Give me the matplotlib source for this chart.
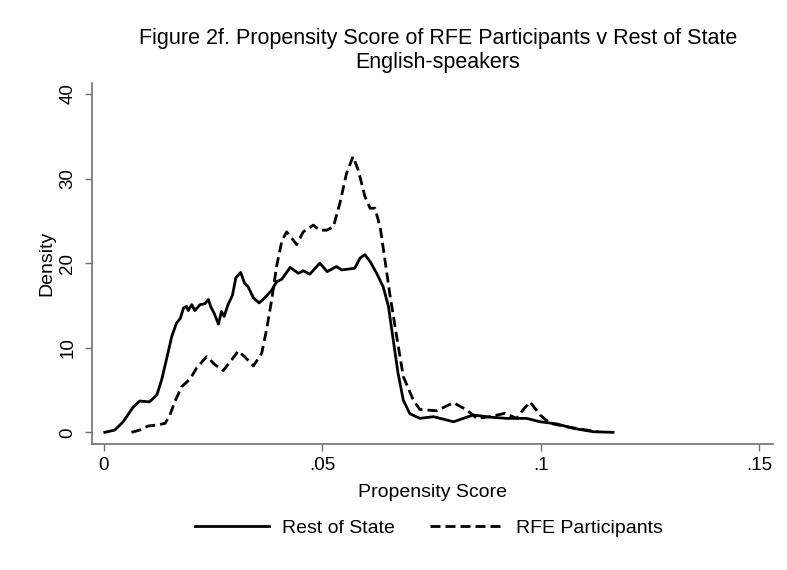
import matplotlib
matplotlib.use('Agg')
import matplotlib.pyplot as plt

# kernel density
rest_x = [0.0002, 0.0025, 0.0044, 0.0067, 0.0082, 0.0104, 0.0121, 0.0132, 0.0143, 0.0155,
          0.0166, 0.0175, 0.0182, 0.0189, 0.0193, 0.0201, 0.0208, 0.0220, 0.0231, 0.0239,
          0.0244, 0.0252, 0.0262, 0.0269, 0.0275, 0.0284, 0.0294, 0.0302, 0.0313, 0.0322,
          0.0330, 0.0342, 0.0355, 0.0368, 0.0384, 0.0395, 0.0407, 0.0426, 0.0445, 0.0456,
          0.0471, 0.0494, 0.0511, 0.0532, 0.0544, 0.0559, 0.0574, 0.0586, 0.0597, 0.0609,
          0.0624, 0.0639, 0.0651, 0.0662, 0.0673, 0.0685, 0.0700, 0.0723, 0.0754, 0.0800,
          0.0845, 0.0883, 0.0921, 0.0967, 0.0998, 0.1036, 0.1074, 0.1120, 0.1165]
rest_y = [0.0, 0.27, 1.25, 3.0, 3.7, 3.6, 4.4, 6.2, 8.6, 11.3,
          12.9, 13.5, 14.7, 14.9, 14.4, 15.1, 14.4, 15.1, 15.2, 15.7,
          14.9, 14.1, 12.8, 14.3, 13.7, 15.1, 16.2, 18.3, 18.9, 17.6,
          17.2, 15.9, 15.3, 15.9, 16.8, 17.8, 18.1, 19.5, 18.8, 19.1,
          18.7, 20.0, 19.0, 19.6, 19.2, 19.3, 19.4, 20.6, 21.0, 20.2,
          18.8, 17.2, 14.9, 10.9, 7.0, 3.8, 2.2, 1.65, 1.85, 1.25,
          2.05, 1.8, 1.65, 1.65, 1.25, 1.0, 0.47, 0.07, 0.0]

rfe_x = [0.0063, 0.0082, 0.0101, 0.0121, 0.0140, 0.0151, 0.0162, 0.0178, 0.0197, 0.0212,
         0.0235, 0.0254, 0.0273, 0.0292, 0.0307, 0.0322, 0.0342, 0.0361, 0.0372, 0.0384,
         0.0395, 0.0407, 0.0418, 0.0429, 0.0441, 0.0456, 0.0479, 0.0494, 0.0510, 0.0525,
         0.0540, 0.0555, 0.0570, 0.0582, 0.0597, 0.0609, 0.0620, 0.0632, 0.0643, 0.0654,
         0.0670, 0.0685, 0.0708, 0.0723, 0.0761, 0.0800, 0.0830, 0.0853, 0.0883, 0.0918,
         0.0944, 0.0959, 0.0975, 0.0998, 0.1021, 0.1059, 0.1104, 0.1131]
rfe_y = [0.0, 0.27, 0.75, 0.86, 1.06, 2.05, 3.6, 5.4, 6.3, 7.6,
         8.95, 8.0, 7.3, 8.55, 9.6, 8.95, 7.85, 9.35, 12.1, 15.7,
         19.6, 22.6, 23.7, 23.0, 22.2, 23.7, 24.5, 23.9, 23.9, 24.3,
         27.1, 30.6, 32.6, 31.0, 27.9, 26.5, 26.5, 24.3, 20.4, 16.4,
         11.3, 6.6, 3.8, 2.7, 2.55, 3.5, 2.65, 1.65, 1.85, 2.25,
         1.65, 2.65, 3.6, 2.05, 1.06, 0.66, 0.27, 0.07]

xticks = [0, 0.05, 0.1, 0.15]
xtick_labels = ['0', '.05', '.1', '.15']
yticks = [0, 10, 20, 30, 40]

plt.rcParams['font.family'] = ['Liberation Sans', 'DejaVu Sans']
W, H = 787, 570
fig = plt.figure(figsize=(W / 100, H / 100), dpi=100)
ax = fig.add_axes([91.7 / W, 1 - 444 / H, (773 - 91.7) / W, (444 - 83) / H])

l1, = ax.plot(rest_x, rest_y, color='black', lw=2.0, solid_joinstyle='round')
l2, = ax.plot(rfe_x, rfe_y, color='black', lw=2.0, dashes=(3.6, 1.8))

ax.set_xlim(-0.0028, 0.1531)
ax.set_ylim(-1.38, 41.3)
ax.set_xticks(xticks)
ax.set_xticklabels(xtick_labels)
ax.set_yticks(yticks)
ax.set_yticklabels([str(v) for v in yticks], rotation=90, va='center')
for s in ['top', 'right']:
    ax.spines[s].set_visible(False)
for s in ['left', 'bottom']:
    ax.spines[s].set_color('#707070')
    ax.spines[s].set_linewidth(1.2)
ax.tick_params(length=5, width=1.0, color='#707070', labelsize=13.5, pad=4)
ax.tick_params(axis='y', pad=6)

fig.text(438 / W, 1 - 44 / H, 'Figure 2f. Propensity Score of RFE Participants v Rest of State',
         ha='center', va='baseline', fontsize=15.5)
fig.text(438 / W, 1 - 68 / H, 'English-speakers', ha='center', va='baseline', fontsize=15.5)
fig.text(432 / W, 1 - 497 / H, 'Propensity Score', ha='center', va='baseline', fontsize=14)
fig.text(47 / W, 1 - 263 / H, 'Density', ha='center', va='center', rotation=90, fontsize=14)

fig.legend([l1, l2], ['Rest of State', 'RFE Participants'], ncol=2, frameon=False,
           loc='center', bbox_to_anchor=(429 / W, 1 - 528 / H), fontsize=14,
           handlelength=3.76, handletextpad=0.67, columnspacing=1.8)

fig.savefig('out.png', dpi=100, facecolor='white')
